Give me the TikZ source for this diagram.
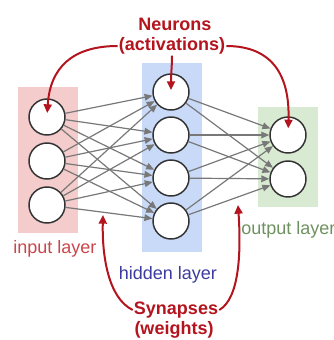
\documentclass[tikz,border=0pt]{standalone}
\usepackage{fontspec}
\setmainfont{Liberation Sans}
\usetikzlibrary{arrows.meta}

\definecolor{inputfill}{RGB}{244,204,204}
\definecolor{hiddenfill}{RGB}{201,218,248}
\definecolor{outputfill}{RGB}{217,234,211}
\definecolor{inputtext}{RGB}{200,70,75}
\definecolor{hiddentext}{RGB}{60,60,160}
\definecolor{outputtext}{RGB}{110,145,95}
\definecolor{notered}{RGB}{180,20,30}
\definecolor{synapsegray}{RGB}{120,120,120}

\begin{document}
\begin{tikzpicture}[x=0.75pt,y=0.75pt,yscale=-1,xscale=1,
	neuron/.style={draw={rgb,255:red,50;green,50;blue,50},fill=white,line width=1.1pt,circle,minimum size=27pt,inner sep=0pt},
	synapse/.style={draw=synapsegray,line width=0.9pt,-{Triangle[length=6pt,width=5pt]}},
	redarrow/.style={draw=notered,line width=1.5pt,-{Triangle[length=6.5pt,width=6pt]}},
	labeltext/.style={inner sep=0.75pt,font=\fontsize{13.5}{16}\selectfont},
	notetext/.style={inner sep=0.75pt,text=notered,font=\fontsize{13.5}{16}\selectfont\bfseries}]
	\useasboundingbox (0,0) rectangle (333,340);
	% layer bands
	\fill [inputfill] (18,87) rectangle (78,233);
	\fill [hiddenfill] (142,63) rectangle (202,252);
	\fill [outputfill] (258,107) rectangle (318,207);
	% neurons
	\draw (47,117) node [neuron] (in1) {};
	\draw (47,161) node [neuron] (in2) {};
	\draw (47,205) node [neuron] (in3) {};
	\draw (171,92) node [neuron] (h1) {};
	\draw (171,135) node [neuron] (h2) {};
	\draw (171,178) node [neuron] (h3) {};
	\draw (171,221) node [neuron] (h4) {};
	\draw (288,135) node [neuron] (out1) {};
	\draw (288,179) node [neuron] (out2) {};
	% synapses input -> hidden
	\draw [synapse] (in1) -- (h1);
	\draw [synapse] (in1) -- (h2);
	\draw [synapse] (in1) -- (h3);
	\draw [synapse] (in1) -- (h4);
	\draw [synapse] (in2) -- (h1);
	\draw [synapse] (in2) -- (h2);
	\draw [synapse] (in2) -- (h3);
	\draw [synapse] (in2) -- (h4);
	\draw [synapse] (in3) -- (h1);
	\draw [synapse] (in3) -- (h2);
	\draw [synapse] (in3) -- (h3);
	\draw [synapse] (in3) -- (h4);
	% synapses hidden -> output
	\draw [synapse] (h1) -- (out1);
	\draw [synapse] (h1) -- (out2);
	\draw [synapse] (h2) -- (out1);
	\draw [synapse] (h2) -- (out2);
	\draw [synapse] (h3) -- (out1);
	\draw [synapse] (h3) -- (out2);
	\draw [synapse] (h4) -- (out1);
	\draw [synapse] (h4) -- (out2);
	% layer labels
	\draw (55,249) node [labeltext,text=inputtext] (inlabel) {input layer};
	\draw (168,275) node [labeltext,text=hiddentext] (hidlabel) {hidden layer};
	\draw (240,230) node [labeltext,text=outputtext,anchor=west] (outlabel) {output layer};
	% notes
	\draw (175,24) node [notetext] (neur) {Neurons};
	\draw (172,46) node [notetext] (act) {(activations)};
	\draw (176,310) node [notetext] (syn) {Synapses};
	\draw (174,330) node [notetext] (wts) {(weights)};
	\coordinate (synleft) at (103,215);
	\coordinate (synright) at (238,205);
	\draw [redarrow,shorten >=3pt] (act.west) .. controls (72,46) and (50,68) .. (in1.center);
	\draw [redarrow,shorten >=1.5pt] (act.south) .. controls (172,65) and (171,75) .. (h1.center);
	\draw [redarrow,shorten >=5pt] (act.east) .. controls (272,46) and (290,75) .. (out1.center);
	\draw [redarrow] (syn.west) .. controls (108,298) and (102,255) .. (synleft);
	\draw [redarrow] (syn.east) .. controls (240,298) and (241,250) .. (synright);
\end{tikzpicture}
\end{document}
